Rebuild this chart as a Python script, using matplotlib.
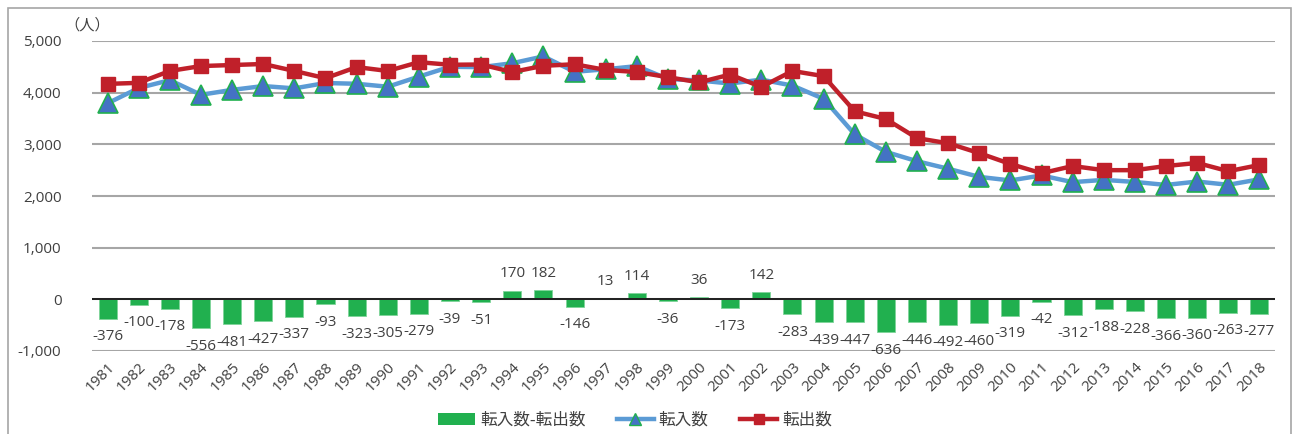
import matplotlib
matplotlib.use("Agg")
import matplotlib.pyplot as plt
from matplotlib.patches import Rectangle, Patch
from matplotlib.lines import Line2D
import numpy as np

years = [str(y) for y in range(1981, 2019)]
net = [-376, -100, -178, -556, -481, -427, -337, -93, -323, -305, -279, -39, -51,
       170, 182, -146, 13, 114, -36, 36, -173, 142, -283, -439, -447, -636, -446,
       -492, -460, -319, -42, -312, -188, -228, -366, -360, -263, -277]
outflow = [4170, 4190, 4420, 4515, 4535, 4555, 4420, 4280, 4495, 4420, 4590, 4540,
           4545, 4400, 4520, 4550, 4440, 4400, 4300, 4200, 4350, 4110, 4420, 4320,
           3640, 3490, 3120, 3020, 2830, 2620, 2440, 2580, 2500, 2500, 2580, 2640,
           2480, 2600]
inflow = [3794, 4090, 4242, 3959, 4054, 4128, 4083, 4187, 4172, 4115, 4311, 4501,
          4494, 4570, 4702, 4404, 4453, 4514, 4264, 4236, 4177, 4252, 4137, 3881,
          3193, 2854, 2674, 2528, 2370, 2301, 2398, 2268, 2312, 2272, 2214, 2280,
          2217, 2323]
yticks = [-1000, 0, 1000, 2000, 3000, 4000, 5000]
legend_labels = ["転入数-転出数", "転入数", "転出数"]
unit_label = "（人）"

NUM_FONT = ["Open Sans", "Noto Sans CJK JP", "DejaVu Sans"]
JP_FONT = ["Noto Sans CJK JP", "DejaVu Sans"]
plt.rcParams["font.family"] = NUM_FONT

W, H = 1292, 434
fig = plt.figure(figsize=(W / 100, H / 100), dpi=100)
fig.patches.append(Rectangle((8 / W, -0.05), (1291 - 8) / W, 1.05 - 8 / H,
                             transform=fig.transFigure, fill=False,
                             edgecolor="#A6A6A6", linewidth=1.2))

ax = fig.add_axes([92 / W, 1 - 351 / H, (1275 - 92) / W, (351 - 41) / H])
x = np.arange(len(years))

ax.set_ylim(-1000, 5000)
ax.set_xlim(-0.5, len(years) - 0.5)
ax.set_yticks(yticks)
ax.set_yticklabels([f"{v:,}" for v in yticks])
ax.yaxis.grid(True, color="#A6A6A6", linewidth=1.5)
ax.set_axisbelow(True)
for s in ax.spines.values():
    s.set_visible(False)
ax.tick_params(axis="y", length=0, pad=22, labelsize=11, labelcolor="#404040")
ax.tick_params(axis="x", length=0, pad=6, labelsize=11, labelcolor="#404040")
ax.set_xticks(x)
ax.set_xticklabels(years, rotation=45, ha="right", rotation_mode="anchor")

bars = ax.bar(x, net, width=0.58, color="#21B04F", edgecolor="#7FD49A",
              linewidth=0.6, zorder=2)
ax.axhline(0, color="#202020", linewidth=1.4, zorder=3)

for xi, v in zip(x, net):
    off = 12 if v >= 0 else -13
    ax.annotate(f"{v}", (xi, v), xytext=(0, off), textcoords="offset points",
                ha="center", va="center", fontsize=11, color="#404040", zorder=5)

ax.plot(x, inflow, color="#5B9BD5", linewidth=3.2, marker="^", markersize=14,
        markerfacecolor="#4472C4", markeredgecolor="#21B04F", markeredgewidth=1.2,
        zorder=4)
ax.plot(x, outflow, color="#C0202A", linewidth=3.2, marker="s", markersize=10,
        markerfacecolor="#C0202A", markeredgecolor="#C0202A", zorder=5)

fig.text(64 / W, 1 - 25 / H, unit_label, fontsize=11, color="#404040",
         family=JP_FONT, ha="left", va="center")

handles = [Patch(facecolor="#21B04F", edgecolor="none"),
           Line2D([], [], color="#5B9BD5", linewidth=3.2, marker="^", markersize=8,
                  markerfacecolor="#4472C4", markeredgecolor="#21B04F"),
           Line2D([], [], color="#C0202A", linewidth=3.2, marker="s", markersize=7,
                  markerfacecolor="#C0202A", markeredgecolor="#C0202A")]
leg = fig.legend(handles, legend_labels, loc="center", bbox_to_anchor=(635 / W, 1 - 420 / H),
                 ncol=3, frameon=False, prop={"family": JP_FONT, "size": 12},
                 handlelength=2.2, columnspacing=1.9, handletextpad=0.3)
for t in leg.get_texts():
    t.set_color("#404040")

fig.savefig("out.png", dpi=100)
